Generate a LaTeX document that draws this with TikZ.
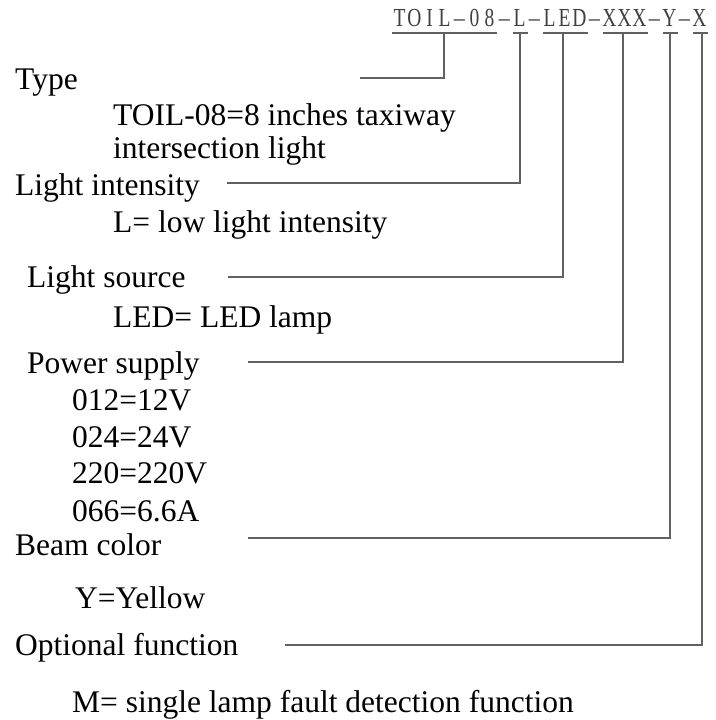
\documentclass[tikz,border=0pt]{standalone}
\usepackage{fontspec}
\usepackage{graphicx}
\setmainfont{Liberation Serif}
\begin{document}
\begin{tikzpicture}[x=1pt,y=-1pt,
  lbl/.style={anchor=base west, inner sep=0pt, font=\fontsize{31.5}{36}\selectfont},
  codechar/.style={anchor=base, inner sep=0pt, text=black!75, font=\fontsize{26}{30}\selectfont},
  lead/.style={draw=black!62, line width=1.4pt},
  uline/.style={draw=black!62, line width=1.4pt}]
\useasboundingbox (0,0) rectangle (715,720);
% code string (one character per 15pt cell)
\foreach \ch/\i in {T/1,O/2,I/3,L/4,0/6,8/7,L/9,L/11,E/12,D/13,X/15,X/16,X/17,Y/19,X/21}
  \node[codechar] (c\i) at ({384.5+15*\i}, 27) {\scalebox{0.75}[1]{\ch}};
\foreach \i in {5,8,10,14,18,20}
  \node[codechar] (c\i) at ({384.5+15*\i}, 27) {\scalebox{0.85}[1]{–}};
% underline end points
\coordinate (s1a) at (392,33); \coordinate (s1b) at (497,33);
\coordinate (s2a) at (513,33); \coordinate (s2b) at (528,33);
\coordinate (s3a) at (543,33); \coordinate (s3b) at (588,33);
\coordinate (s4a) at (603,33); \coordinate (s4b) at (648,33);
\coordinate (s5a) at (663,33); \coordinate (s5b) at (678,33);
\coordinate (s6a) at (693,33); \coordinate (s6b) at (708,33);
\foreach \k in {1,...,6} \draw[uline] (s\k a) -- (s\k b);
% stems
\coordinate (t1) at (444,33); \coordinate (t2) at (520,33);
\coordinate (t3) at (563,33); \coordinate (t4) at (623,33);
\coordinate (t5) at (670,33); \coordinate (t6) at (702,33);
% free ends of leaders
\coordinate (e1) at (360,78);
\coordinate (e2) at (227,183);
\coordinate (e3) at (228,277);
\coordinate (e4) at (248,362);
\coordinate (e5) at (248,538);
\coordinate (e6) at (285,645);
\foreach \k in {1,...,6} \draw[lead] (t\k) |- (e\k);
% labels
\node[lbl] (type) at (15,89) {Type};
\node[lbl] (type1) at (113,125) {TOIL-08=8 inches taxiway};
\node[lbl] (type2) at (113,158) {intersection light};
\node[lbl] (li) at (15,195) {Light intensity};
\node[lbl] (li1) at (113,232) {L= low light intensity};
\node[lbl] (ls) at (27,287) {Light source};
\node[lbl] (ls1) at (113,327) {LED= LED lamp};
\node[lbl] (ps) at (27,373) {Power supply};
\node[lbl] (ps1) at (72,410) {012=12V};
\node[lbl] (ps2) at (72,447) {024=24V};
\node[lbl] (ps3) at (72,483) {220=220V};
\node[lbl] (ps4) at (72,521) {066=6.6A};
\node[lbl] (bc) at (15,555) {Beam color};
\node[lbl] (bc1) at (75,608) {Y=Yellow};
\node[lbl] (of) at (15,655) {Optional function};
\node[lbl] (of1) at (72,712) {M= single lamp fault detection function};
\end{tikzpicture}
\end{document}
